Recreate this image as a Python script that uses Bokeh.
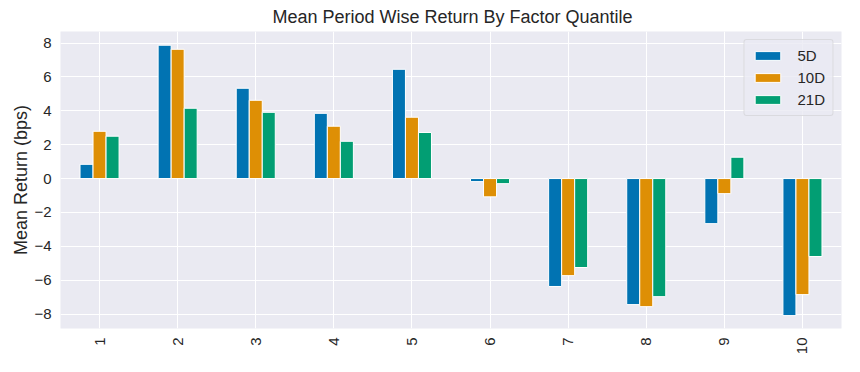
import math
from bokeh.plotting import figure
from bokeh.models import ColumnDataSource, FixedTicker, Legend, LegendItem
from bokeh.embed import file_html
from bokeh.resources import INLINE

quantiles = [1, 2, 3, 4, 5, 6, 7, 8, 9, 10]
series_names = ["5D", "10D", "21D"]
ret_5d = [0.84, 7.87, 5.33, 3.85, 6.45, -0.18, -6.37, -7.44, -2.66, -8.09]
ret_10d = [2.79, 7.63, 4.62, 3.09, 3.62, -1.08, -5.73, -7.56, -0.89, -6.85]
ret_21d = [2.50, 4.15, 3.91, 2.20, 2.72, -0.30, -5.25, -6.97, 1.26, -4.60]
y_ticks = [-8, -6, -4, -2, 0, 2, 4, 6, 8]
colors = ["#0173B2", "#DE8F05", "#029E73"]

TXT = "#262626"
FONT = "Liberation Sans"

p = figure(frame_width=781, frame_height=297, output_backend="svg", toolbar_location=None,
           x_range=(0.5, 10.5), y_range=(-8.85, 8.68),
           title="Mean Period Wise Return By Factor Quantile",
           min_border_left=0, min_border_right=8, min_border_top=0, min_border_bottom=0)
p.margin = (0, 0, 0, 8)

p.background_fill_color = "#EAEAF2"
p.border_fill_color = "white"
p.outline_line_color = None

p.title.align = "center"
p.title.text_font = FONT
p.title.text_font_size = "18px"
p.title.text_font_style = "normal"
p.title.text_color = TXT
p.title.standoff = 9
p.title.padding = (3, 0, 0, 0)

w = 0.5 / 3
series = [ret_5d, ret_10d, ret_21d]
renderers = []
for i, (vals, c) in enumerate(zip(series, colors)):
    xs = [q + (i - 1) * w for q in quantiles]
    src = ColumnDataSource(dict(x=xs, top=vals))
    r = p.vbar(x="x", top="top", bottom=0, width=w, source=src,
               fill_color=c, line_color="white", line_width=1)
    renderers.append(r)

p.xaxis.ticker = FixedTicker(ticks=quantiles)
p.yaxis.ticker = FixedTicker(ticks=y_ticks)
p.xaxis.major_label_orientation = math.pi / 2

for ax in (p.xaxis, p.yaxis):
    ax.axis_line_color = None
    ax.major_tick_line_color = None
    ax.minor_tick_line_color = None
    ax.major_tick_out = 0
    ax.major_tick_in = 0
    ax.major_label_text_font = FONT
    ax.major_label_text_font_size = "15px"
    ax.major_label_text_color = TXT
    ax.major_label_standoff = 9

p.yaxis.axis_label = "Mean Return (bps)"
p.yaxis.axis_label_text_font = FONT
p.yaxis.axis_label_text_font_size = "18px"
p.yaxis.axis_label_text_font_style = "normal"
p.yaxis.axis_label_text_color = TXT
p.yaxis.axis_label_standoff = 0

p.xgrid.grid_line_color = "white"
p.ygrid.grid_line_color = "white"
p.xgrid.grid_line_width = 1
p.ygrid.grid_line_width = 1

legend = Legend(items=[LegendItem(label=n, renderers=[r]) for n, r in zip(series_names, renderers)],
                location="top_right")
legend.label_text_font = FONT
legend.label_text_font_size = "15px"
legend.label_text_color = TXT
legend.glyph_width = 32
legend.glyph_height = 11
legend.background_fill_color = "#EAEAF2"
legend.background_fill_alpha = 0.8
legend.border_line_color = "#CCCCCC"
legend.border_line_width = 1
legend.border_radius = 3
legend.label_standoff = 14
legend.spacing = 5
legend.padding = 7
legend.margin = 8
p.add_layout(legend)

open("out.html", "w").write(file_html(p, INLINE))
